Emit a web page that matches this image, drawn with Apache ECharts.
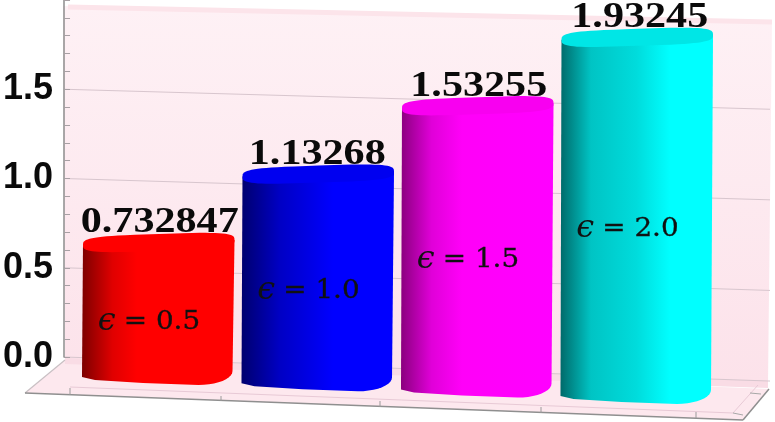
<!DOCTYPE html>
<html><head><meta charset="utf-8">
<style>html,body{margin:0;padding:0;background:#fff}#c{width:775px;height:422px}</style>
<script src="https://cdn.jsdelivr.net/npm/echarts@6/dist/echarts.min.js"></script>
</head><body><div id="c"></div>
<script>
const categories = ['0.5','1.0','1.5','2.0'];
const values = [0.732847,1.13268,1.53255,1.93245];
const valueLabels = ['0.732847','1.13268','1.53255','1.93245'];
const epsilonSymbol = '\u03f5';
const epsilonLabels = ['= 0.5','= 1.0','= 1.5','= 2.0'];
const gridValues = [0,0.5,1,1.5];
const tickLabels = {0:'0.0',0.5:'0.5',1:'1.0',1.5:'1.5'};
const barStops = [
  [[0,'#7d0000'],[0.2,'#e00000'],[0.36,'#ff0000'],[1,'#ff0000']],
  [[0,'#00006e'],[0.25,'#0000c4'],[0.6,'#0000ff'],[1,'#0000ff']],
  [[0,'#8a007e'],[0.2,'#e000d8'],[0.4,'#ff00f8'],[1,'#ff00ff']],
  [[0,'#006a6a'],[0.2,'#00c4c4'],[0.5,'#00dcdc'],[0.72,'#00ffff'],[1,'#00ffff']]
];
const capColors = ['#ff0000','#0000f0','#f800f0','#00e6e6'];

const chart = echarts.init(document.getElementById('c'),null,{renderer:'canvas'});
function lg(stops){return {type:'linear',x:0,y:0,x2:1,y2:0,colorStops:stops.map(s=>({offset:s[0],color:s[1]}))};}

function renderGrid(p,api){
  const v=api.value(0), a=api.coord([0,v]), b=api.coord([1,v]);
  const lift=20+(1.5-v)*2.7;
  return {type:'line',shape:{x1:a[0],y1:a[1],x2:b[0],y2:b[1]+lift},
    style:{stroke:'#d8c6ce',lineWidth:1},silent:true};
}
function renderBar(p,api){
  const i=api.value(0), v=api.value(1);
  const top=api.coord([i,v]), zero=api.coord([i,0]);
  const w=api.size([1,0])[0]*0.95;
  const xc=top[0], xL=xc-w/2, xR=xc+w/2, T=top[1];
  const B=zero[1]+25.7+6.3*i;
  const pts=[[xL,T+11],[xR,T+6],[xR-2,B-14]];
  for(let k=1;k<=10;k++){const t=k/10*Math.PI/2;
    pts.push([xR-36+34*Math.cos(t),B-14+14*Math.sin(t)]);}
  pts.push([xL+60,B-2],[xL+12,B-5],[xL-1,B-8]);
  const cap=[], rx=w/2, ry=8.5;
  for(let k=0;k<64;k++){const t=k/64*2*Math.PI,c=Math.cos(t),s=Math.sin(t);
    const dx=Math.sign(c)*Math.pow(Math.abs(c),0.5), dy=Math.sign(s)*Math.pow(Math.abs(s),0.6);
    cap.push([xc+rx*dx,T+8.5+ry*dy-dx*2.5]);}
  const mid=(T+B)/2+13;
  return {type:'group',children:[
    {type:'polygon',shape:{points:pts},style:{fill:lg(barStops[i])}},
    {type:'polygon',shape:{points:cap},style:{fill:capColors[i]}},
    {type:'text',x:xc+(i==0?1:i==3?2.5:i==2?1:-1),y:T+7,scaleX:1.17,style:{text:valueLabels[i],
      font:'bold 36px "Liberation Serif"',fill:'#0a0a0a',align:'center',verticalAlign:'bottom'}},
    {type:'text',x:xc-61,y:mid-1,style:{text:epsilonSymbol,
      font:'italic 32px "DejaVu Serif"',fill:'#111',align:'left',verticalAlign:'middle'}},
    {type:'text',x:xc-35,y:mid,scaleX:1.07,style:{text:epsilonLabels[i],
      font:'26px "DejaVu Serif"',fill:'#111',stroke:'#111',lineWidth:0.3,align:'left',verticalAlign:'middle'}}
  ]};
}

chart.setOption({
  animation:false,
  backgroundColor:'#fff',
  graphic:{elements:[
    {type:'polygon',z:0,shape:{points:[[63,6],[772,21],[768,383],[65,359]]},
      style:{fill:{type:'linear',x:0,y:0,x2:0,y2:1,colorStops:[{offset:0,color:'#fef1f5'},{offset:1,color:'#fce2ea'}]}}},
    {type:'line',z:0,shape:{x1:68,y1:7,x2:772,y2:22},style:{stroke:'#fce4ea',lineWidth:5}},
    {type:'polygon',z:0,shape:{points:[[65,360],[25,393],[743,420],[769,389]]},style:{fill:'#fde8ee'}},
    {type:'polygon',z:0,shape:{points:[[65,358],[768,381],[768,388],[65,364]]},style:{fill:'#f9dce5'}},
    {type:'line',z:0,shape:{x1:25,y1:393,x2:65,y2:360},style:{stroke:'#c9c0c4',lineWidth:1.2}},
    {type:'line',z:0,shape:{x1:25,y1:393,x2:743,y2:420},style:{stroke:'#8f8f8f',lineWidth:1.5}},
    {type:'line',z:0,shape:{x1:743,y1:420,x2:769,y2:389},style:{stroke:'#8f8f8f',lineWidth:1.5}},
    {type:'line',z:0,shape:{x1:70,y1:387,x2:733,y2:413},style:{stroke:'#e8cad6',lineWidth:1}},
    {type:'line',z:0,shape:{x1:733,y1:413,x2:758,y2:385},style:{stroke:'#e8cad6',lineWidth:1}},
    {type:'line',z:0,shape:{x1:70,y1:388,x2:70,y2:395},style:{stroke:'#9a9a9a',lineWidth:1}},
    {type:'line',z:0,shape:{x1:221,y1:396,x2:221,y2:401},style:{stroke:'#9a9a9a',lineWidth:1}},
    {type:'line',z:0,shape:{x1:380,y1:401,x2:380,y2:407},style:{stroke:'#9a9a9a',lineWidth:1}},
    {type:'line',z:0,shape:{x1:541,y1:407,x2:541,y2:413},style:{stroke:'#9a9a9a',lineWidth:1}},
    {type:'line',z:0,shape:{x1:696,y1:412,x2:696,y2:418},style:{stroke:'#9a9a9a',lineWidth:1}},
    {type:'line',z:0,shape:{x1:733,y1:413,x2:743,y2:415},style:{stroke:'#a8a8a8',lineWidth:1}},
    {type:'line',z:0,shape:{x1:750,y1:393,x2:761,y2:394},style:{stroke:'#a8a8a8',lineWidth:1}}
  ]},
  grid:[
    {left:64,width:706,top:-1.6,height:358.6},
    {left:79,width:638,top:17.3,height:342}
  ],
  xAxis:[
    {type:'value',gridIndex:0,min:0,max:1,show:false},
    {type:'category',gridIndex:1,data:categories,show:false}
  ],
  yAxis:[
    {type:'value',gridIndex:0,min:0,max:2,interval:0.5,z:5,
      axisLine:{show:true,lineStyle:{color:'#8c8c8c',width:1.5}},
      axisTick:{show:true,inside:true,length:6,lineStyle:{color:'#a8a0a4'}},
      minorTick:{show:true,splitNumber:5,length:6,lineStyle:{color:'#a8a0a4'}},
      splitLine:{show:false},minorSplitLine:{show:false},
      axisLabel:{show:true,margin:11,color:'#0a0a0a',fontSize:36,fontWeight:'bold',fontFamily:'"Liberation Sans"',
        formatter:v=>tickLabels[v]||''}},
    {type:'value',gridIndex:1,min:0,max:2,show:false}
  ],
  series:[
    {type:'custom',xAxisIndex:0,yAxisIndex:0,z:1,renderItem:renderGrid,silent:true,
      encode:{y:0},data:gridValues.map(v=>[v])},
    {type:'custom',xAxisIndex:1,yAxisIndex:1,z:3,renderItem:renderBar,silent:true,
      encode:{x:0,y:1},data:values.map((v,i)=>[i,v])}
  ]
});
</script></body></html>
